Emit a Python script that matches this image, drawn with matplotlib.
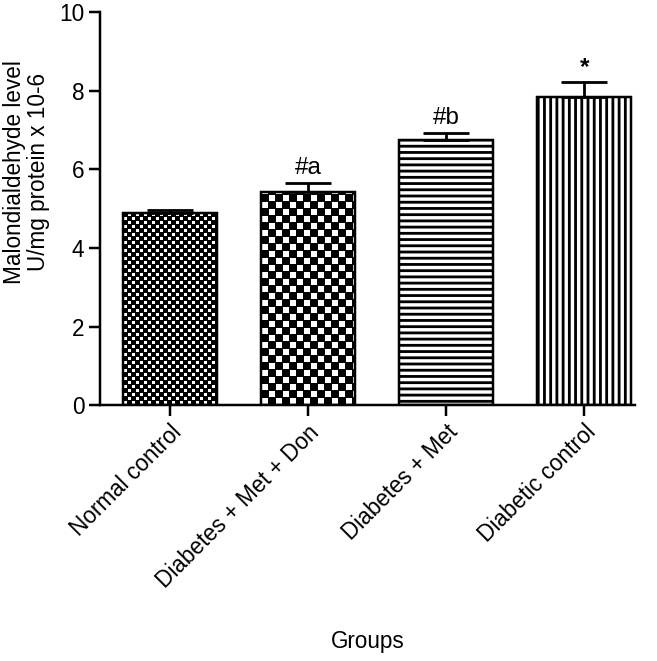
import numpy as np
import matplotlib
matplotlib.use("Agg")
import matplotlib.pyplot as plt

categories = ["Normal control", "Diabetes + Met + Don", "Diabetes + Met", "Diabetic control"]
means = [4.88, 5.43, 6.74, 7.84]
errors = [0.08, 0.23, 0.19, 0.38]
annotations = ["", "#a", "#b", "*"]
yticks = [0, 2, 4, 6, 8, 10]

DPI = 112
FS = 14.5
plt.rcParams['font.family'] = ['Liberation Sans', 'DejaVu Sans']
plt.rcParams['hatch.linewidth'] = 1.8

fig = plt.figure(figsize=(657 / DPI, 661 / DPI), dpi=DPI)
ax = fig.add_axes([0.152, 0.387, 0.815, 0.595])

x = np.arange(len(categories))
width = 0.68
bars = ax.bar(x, means, width=width, color='white', edgecolor='black',
              linewidth=1.6, zorder=2)
ax.errorbar(x, means, yerr=[[0] * len(x), errors], fmt='none', ecolor='black',
            elinewidth=1.8, capsize=15, capthick=1.8, zorder=3)

ax.set_xlim(-0.505, 3.37)
ax.set_ylim(0, 10)

# hatches for the line-patterned bars
bars[2].set_hatch('---')
bars[3].set_hatch('|||')

# checkerboard textures for first two bars
fig.canvas.draw()
def px_size(b):
    bb = b.get_window_extent()
    return int(round(bb.width)), int(round(bb.height))

def checker(wpx, hpx, c, shrink):
    ii, jj = np.indices((hpx, wpx))
    base = ((ii // c + jj // c) % 2 == 0)
    if shrink:
        base &= (ii % c >= shrink) & (jj % c >= shrink)
    return base.astype(float)

for b, cell, shrink in [(bars[0], 4, 1), (bars[1], 7, 1)]:
    wpx, hpx = px_size(b)
    tex = checker(wpx, hpx, cell, shrink)
    x0 = b.get_x()
    im = ax.imshow(tex, extent=[x0, x0 + b.get_width(), 0, b.get_height()],
                   cmap='gray', vmin=0, vmax=1, interpolation='nearest',
                   aspect='auto', zorder=1.5, origin='lower')
    im.set_clip_path(b)
    b.set_facecolor('none')

ax.set_xlim(-0.505, 3.37)
ax.set_ylim(0, 10)
ax.set_aspect('auto')

for xi, m, e, t in zip(x, means, errors, annotations):
    if t:
        ax.text(xi, m + e + 0.08, t, ha='center', va='bottom', fontsize=FS + 1,
                fontweight='bold' if t == '*' else 'normal')

ax.spines['top'].set_visible(False)
ax.spines['right'].set_visible(False)
ax.spines['left'].set_linewidth(1.6)
ax.spines['bottom'].set_linewidth(1.6)

ax.set_yticks(yticks)
ax.set_yticklabels([str(v) for v in yticks], fontsize=FS)
ax.set_xticks(x)
ax.set_xticklabels(categories, rotation=45, ha='right', rotation_mode='anchor',
                   fontsize=FS)
ax.tick_params(axis='both', width=1.6, length=7, pad=3)

fig.text(0.04, 1 - 172 / 661, "Malondialdehyde level\nU/mg protein x 10-6",
         rotation=90, ha='center', va='center', fontsize=FS, linespacing=1.05,
         multialignment='center')
fig.text(0.56, 0.03, "Groups", ha='center', va='center', fontsize=FS)

fig.savefig("out.png", dpi=DPI)
